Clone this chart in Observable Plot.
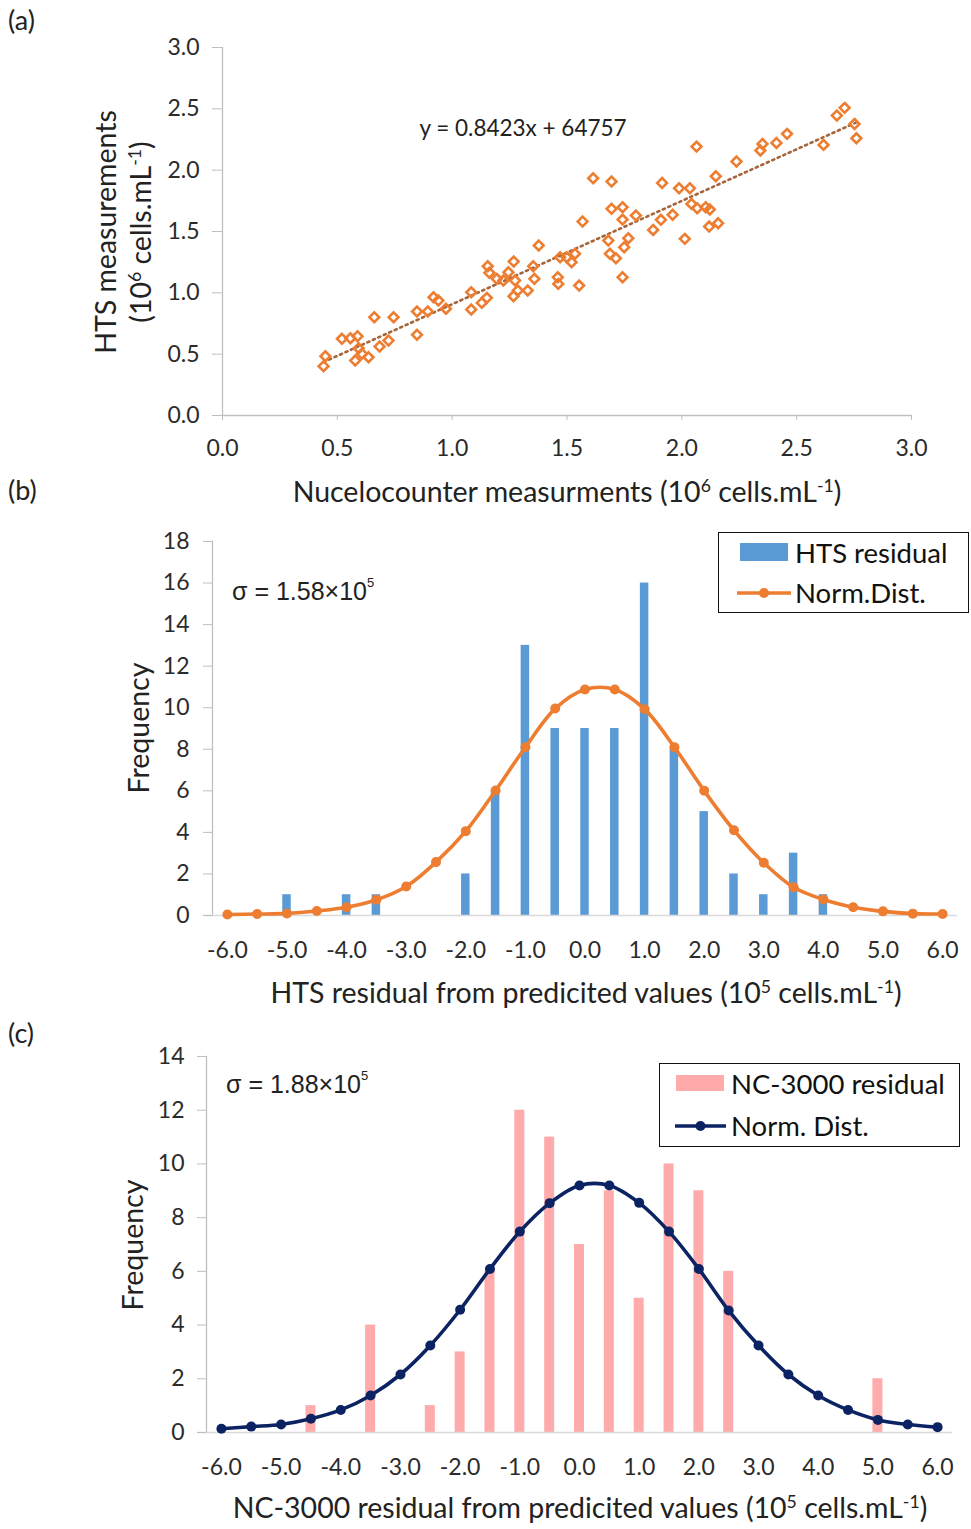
<!DOCTYPE html>
<html><head><meta charset="utf-8">
<script src="https://cdn.jsdelivr.net/npm/d3@7"></script>
<script src="https://cdn.jsdelivr.net/npm/@observablehq/plot@0.6"></script>
<style>
body{margin:0;background:#fff;}
#page{position:relative;width:971px;height:1529px;font-family:Lato,sans-serif;color:#222;overflow:hidden;background:#fff}
.abs{position:absolute;white-space:nowrap;line-height:1}
.c{transform:translate(-50%,-50%)}
.rot{transform:translate(-50%,-50%) rotate(-90deg)}
#page svg.plot{position:absolute;left:0}
sup{font-size:0.62em;vertical-align:0;position:relative;top:-0.55em}
.sig{font-family:"Liberation Sans",Arial,sans-serif;font-size:25px;color:#222}
.sig sup{font-size:13px;top:-1.0em}
.legend{position:absolute;border:1.6px solid #111;box-sizing:border-box;background:#fff}
.ltxt{position:absolute;font-size:27.5px;line-height:1;transform:translateY(-50%);white-space:nowrap;color:#111}
</style></head>
<body><div id="page"></div>
<script>
// ---------- Panel (a): scatter (10^6 cells/mL) ----------
const nucX = [1.614,1.568,1.377,1.155,1.268,1.162,1.245,1.194,1.223,1.274,1.353,1.358,1.470,1.499,1.520,1.535,1.460,1.462,1.553,1.286,1.267,1.329,1.083,1.151,1.129,1.083,0.919,0.940,0.973,0.847,0.894,0.847,0.661,0.745,0.520,0.557,0.588,0.723,0.684,0.593,0.607,0.578,0.636,0.448,0.440,
  2.709,2.675,2.752,2.760,2.617,2.458,2.412,2.351,2.342,2.238,2.064,2.148,1.694,1.914,1.988,2.035,2.042,2.067,2.104,2.122,1.694,1.742,1.742,1.800,1.909,1.960,1.875,2.119,2.158,2.013,1.680,1.767,1.749,1.687,1.713,1.742];
const htsY = [1.934,1.581,1.386,1.217,1.255,1.163,1.168,1.114,1.100,1.100,1.217,1.114,1.290,1.290,1.249,1.318,1.127,1.073,1.059,1.019,0.972,1.019,1.005,0.959,0.918,0.864,0.964,0.937,0.870,0.848,0.848,0.658,0.801,0.801,0.625,0.630,0.646,0.611,0.562,0.548,0.503,0.448,0.475,0.483,0.402,
  2.508,2.445,2.377,2.260,2.206,2.296,2.222,2.214,2.160,2.070,2.192,1.950,1.907,1.896,1.852,1.852,1.725,1.690,1.698,1.679,1.685,1.698,1.597,1.630,1.595,1.636,1.513,1.540,1.567,1.440,1.426,1.445,1.372,1.318,1.282,1.127];
const trendSlope = 0.8423;
const trendIntercept = 64757; // cells/mL
const axisTicksA = [0, 0.5, 1.0, 1.5, 2.0, 2.5, 3.0];

// ---------- Panels (b) and (c): residual histograms (10^5 cells/mL) ----------
const bins = ["-6.0","-5.5","-5.0","-4.5","-4.0","-3.5","-3.0","-2.5","-2.0","-1.5","-1.0","-0.5","0.0","0.5","1.0","1.5","2.0","2.5","3.0","3.5","4.0","4.5","5.0","5.5","6.0"];
const binLabels = ["-6.0","-5.0","-4.0","-3.0","-2.0","-1.0","0.0","1.0","2.0","3.0","4.0","5.0","6.0"];
const htsFreq = [0,0,1,0,1,1,0,0,2,6,13,9,9,9,16,8,5,2,1,3,1,0,0,0,0];
const htsNorm = [0.05,0.07,0.1,0.22,0.4,0.76,1.4,2.57,4.06,6.02,8.1,9.96,10.88,10.88,9.93,8.1,6.0,4.1,2.54,1.36,0.77,0.4,0.2,0.09,0.07];
const ncFreq = [0,0,0,1,0,4,0,1,3,6,12,11,7,9,5,10,9,6,0,0,0,0,2,0,0];
const ncNorm = [0.14,0.22,0.3,0.51,0.84,1.38,2.16,3.24,4.57,6.09,7.48,8.54,9.2,9.2,8.55,7.48,6.09,4.54,3.24,2.16,1.38,0.84,0.47,0.3,0.2];
const freqTicksB = [0,2,4,6,8,10,12,14,16,18];
const freqTicksC = [0,2,4,6,8,10,12,14];

const ORANGE = "#ED7D31", BLUE = "#5B9BD5", PINK = "#FFABAB", NAVY = "#0B2263", AXIS = "#bfbfbf", TXT = "#2b2b2b";
const page = document.getElementById("page");
const baseStyle = {fontFamily: "Lato, sans-serif", fontSize: "23px", background: "transparent", overflow: "visible", color: TXT};

function place(svg, top) { svg.classList.add("plot"); svg.style.top = top + "px"; page.appendChild(svg); }
function html(cls, text, left, top, extra) {
  const d = document.createElement("div");
  d.className = "abs " + cls; d.innerHTML = text;
  d.style.left = left + "px"; d.style.top = top + "px";
  if (extra) Object.assign(d.style, extra);
  page.appendChild(d); return d;
}

// ----- (a)
const scatter = nucX.map((x, i) => ({x, y: htsY[i]}));
const ext = d3.extent(nucX);
const trend = ext.map(x => ({x, y: trendSlope * x + trendIntercept / 1e6}));
const plotA = Plot.plot({
  width: 971, height: 470, marginLeft: 222, marginRight: 60, marginTop: 47, marginBottom: 55,
  style: baseStyle,
  x: {domain: [0, 3]}, y: {domain: [0, 3]},
  marks: [
    Plot.ruleX([0], {stroke: AXIS, strokeWidth: 1.3}),
    Plot.ruleY([0], {stroke: AXIS, strokeWidth: 1.3}),
    Plot.axisX({ticks: axisTicksA, tickFormat: d3.format(".1f"), tickSize: 5, tickPadding: 19, stroke: AXIS, fill: TXT, label: null}),
    Plot.axisY({ticks: axisTicksA, tickFormat: d3.format(".1f"), tickSize: 10, tickPadding: 13, stroke: AXIS, fill: TXT, label: null}),
    Plot.line(trend, {x: "x", y: "y", stroke: "#a5643a", strokeWidth: 2.6, strokeDasharray: "2.2,3.8"}),
    Plot.dot(scatter, {x: "x", y: "y", symbol: "diamond2", r: 4.4, stroke: ORANGE, strokeWidth: 2.6, fill: "none"})
  ]
});
place(plotA, 0);

// ----- (b)
const htsData = bins.map((b, i) => ({bin: b, f: htsFreq[i], n: htsNorm[i]}));
const plotB = Plot.plot({
  width: 971, height: 460, marginLeft: 212, marginRight: 14, marginTop: 21, marginBottom: 65,
  style: baseStyle,
  x: {domain: bins, paddingInner: 0.715, paddingOuter: 0.3575, align: 0.5, round: false},
  y: {domain: [0, 18]},
  marks: [
    Plot.barY(htsData, {x: "bin", y: "f", fill: BLUE}),
    Plot.frame({anchor: "left", stroke: AXIS, strokeWidth: 1.3}),
    Plot.ruleY([0], {stroke: "#d9d9d9", strokeWidth: 1.3, insetLeft: -9}),
    Plot.axisX({tickSize: 0, tickPadding: 26, tickFormat: d => binLabels.includes(d) ? d : "", fill: TXT, label: null}),
    Plot.axisY({ticks: freqTicksB, tickSize: 9, tickPadding: 14, stroke: AXIS, fill: TXT, label: null}),
    Plot.line(htsData, {x: "bin", y: "n", stroke: ORANGE, strokeWidth: 3.6, curve: "catmull-rom"}),
    Plot.dot(htsData, {x: "bin", y: "n", fill: ORANGE, r: 5})
  ]
});
place(plotB, 520);

// ----- (c)
const ncData = bins.map((b, i) => ({bin: b, f: ncFreq[i], n: ncNorm[i]}));
const plotC = Plot.plot({
  width: 971, height: 489, marginLeft: 206, marginRight: 19, marginTop: 16, marginBottom: 97,
  style: baseStyle,
  x: {domain: bins, paddingInner: 0.665, paddingOuter: 0.3325, align: 0.5, round: false},
  y: {domain: [0, 14]},
  marks: [
    Plot.barY(ncData, {x: "bin", y: "f", fill: PINK}),
    Plot.frame({anchor: "left", stroke: AXIS, strokeWidth: 1.3}),
    Plot.ruleY([0], {stroke: "#d9d9d9", strokeWidth: 1.3, insetLeft: -9}),
    Plot.axisX({tickSize: 0, tickPadding: 26, tickFormat: d => binLabels.includes(d) ? d : "", fill: TXT, label: null}),
    Plot.axisY({ticks: freqTicksC, tickSize: 9, tickPadding: 13, stroke: AXIS, fill: TXT, label: null}),
    Plot.line(ncData, {x: "bin", y: "n", stroke: NAVY, strokeWidth: 3.6, curve: "catmull-rom"}),
    Plot.dot(ncData, {x: "bin", y: "n", fill: NAVY, r: 5})
  ]
});
place(plotC, 1040);

// ----- text overlays
const T = {fontSize: "28.5px", color: "#222"};
html("", "(a)", 8, 6, {fontSize: "27px", color: "#222"});
html("", "(b)", 8, 476, {fontSize: "27px", color: "#222"});
html("", "(c)", 8, 1019, {fontSize: "27px", color: "#222"});

html("c", "Nucelocounter measurments (10<sup>6</sup> cells.mL<sup>-1</sup>)", 567, 491, T);
html("rot", "HTS measurements", 105, 232, T);
html("rot", "(10<sup>6</sup> cells.mL<sup>-1</sup>)", 140, 232, T);
html("c", "y = 0.8423x + 64757", 523, 128, {fontSize: "22.5px", color: "#222"});

html("c", "HTS residual from predicited values (10<sup>5</sup> cells.mL<sup>-1</sup>)", 586, 992, T);
html("rot", "Frequency", 138, 728, T);
html("sig", "σ = 1.58×10<sup>5</sup>", 232, 579);

html("c", "NC-3000 residual from predicited values (10<sup>5</sup> cells.mL<sup>-1</sup>)", 580, 1507, T);
html("rot", "Frequency", 132, 1245, T);
html("sig", "σ = 1.88×10<sup>5</sup>", 226, 1072);

// ----- legends
function legend(box, sw, ln, labels, barColor, lineColor) {
  const L = document.createElement("div");
  L.className = "legend";
  Object.assign(L.style, {left: box[0] + "px", top: box[1] + "px", width: box[2] + "px", height: box[3] + "px"});
  page.appendChild(L);
  const s = document.createElement("div");
  Object.assign(s.style, {position: "absolute", left: sw[0] + "px", top: sw[1] + "px", width: sw[2] + "px", height: sw[3] + "px", background: barColor});
  page.appendChild(s);
  const NS = "http://www.w3.org/2000/svg";
  const g = document.createElementNS(NS, "svg");
  g.setAttribute("width", 80); g.setAttribute("height", 20);
  Object.assign(g.style, {position: "absolute", left: (ln[0] - 5) + "px", top: (ln[2] - 10) + "px"});
  const line = document.createElementNS(NS, "line");
  line.setAttribute("x1", 5); line.setAttribute("x2", 5 + ln[1] - ln[0]); line.setAttribute("y1", 10); line.setAttribute("y2", 10);
  line.setAttribute("stroke", lineColor); line.setAttribute("stroke-width", 3.6);
  const dot = document.createElementNS(NS, "circle");
  dot.setAttribute("cx", 5 + (ln[1] - ln[0]) / 2); dot.setAttribute("cy", 10); dot.setAttribute("r", 5); dot.setAttribute("fill", lineColor);
  g.appendChild(line); g.appendChild(dot); page.appendChild(g);
  labels.forEach(([t, x, y]) => {
    const d = document.createElement("div"); d.className = "ltxt"; d.textContent = t;
    d.style.left = x + "px"; d.style.top = y + "px"; page.appendChild(d);
  });
}
legend([718, 532, 251, 81], [740, 543, 48, 18], [737, 791, 593], [["HTS residual", 795, 553], ["Norm.Dist.", 795, 593]], BLUE, ORANGE);
legend([659, 1063, 301, 84], [676, 1075, 48, 16], [675, 726, 1126], [["NC-3000 residual", 731, 1084], ["Norm. Dist.", 731, 1126]], PINK, NAVY);
</script>
</body></html>
